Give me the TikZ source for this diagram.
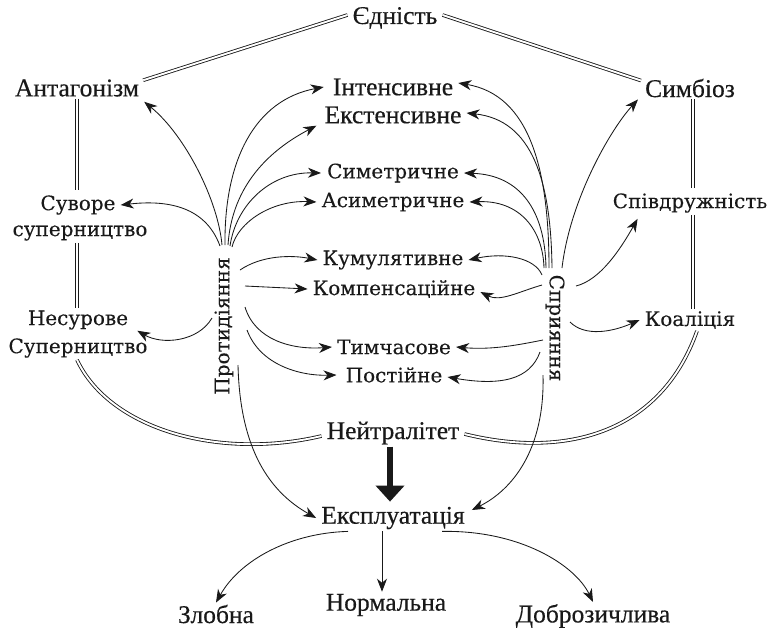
\documentclass[tikz,border=0pt]{standalone}
\usepackage{fontspec}
\usetikzlibrary{arrows.meta,calc}
\newfontfamily\slabf{DejaVu Serif}[FakeBold=0.15]
\newfontfamily\condf{Liberation Serif}[FakeBold=0.4]
\begin{document}
\begin{tikzpicture}[x=1pt,y=-1pt,
  cond/.style={font=\condf\fontsize{25.5}{31}\selectfont, inner xsep=5pt, inner ysep=2pt, text=black!90},
  slab/.style={font=\slabf\fontsize{20}{31}\selectfont, inner xsep=5pt, inner ysep=2pt, text=black!90},
  dbl/.style={double, double distance=1.9pt, line width=0.85pt, draw=black!90},
  arr/.style={-{Stealth[length=13pt,width=10pt,inset=4pt]}, line width=0.85pt, draw=black!90},
  thick arrow/.style={-{Triangle[length=16pt,width=28pt]}, line width=6.5pt, draw=black!90}]
\useasboundingbox (0,0) rectangle (771,630);

% nodes
\node[cond] (edn)  at (395,18)  {Єдність};
\node[cond] (ant)  at (77,88)   {Антагонізм};
\node[cond] (int)  at (393,87)  {Інтенсивне};
\node[cond] (ext)  at (393,115) {Екстенсивне};
\node[cond] (sym)  at (690,88)  {Симбіоз};
\node[slab] (suv1) at (78,205)  {Суворе};
\node[slab] (suv2) at (80,233)  {суперництво};
\node[slab] (spiv) at (690,203) {Співдружність};
\node[slab] (symm) at (393,173) {Симетричне};
\node[slab] (asym) at (393,202) {Асиметричне};
\node[slab] (kum)  at (393,260) {Кумулятивне};
\node[slab] (komp) at (394,289) {Компенсаційне};
\node[slab, rotate=90]  (prot) at (224,326) {Протидіяння};
\node[slab, rotate=-90] (spr)  at (555,328) {Сприяння};
\node[slab] (koal) at (690,320) {Коаліція};
\node[slab] (nes1) at (78,320)  {Несурове};
\node[slab] (nes2) at (78,348)  {Суперництво};
\node[slab] (tym)  at (394,347) {Тимчасове};
\node[slab] (post) at (394,375) {Постійне};
\node[cond] (neut) at (393,433) {Нейтралітет};
\node[cond] (expl) at (393,518) {Експлуатація};
\node[cond] (zl)   at (216,614) {Злобна};
\node[cond] (norm) at (386,605) {Нормальна};
\node[cond] (dobr) at (593,616) {Доброзичлива};

% guide coordinates for the double lines
\coordinate (L) at (77,0);
\coordinate (R) at (693,0);

% double lines
\draw[dbl] ([yshift=3pt]edn.west) -- ([xshift=-1pt,yshift=-3pt]ant.north east);
\draw[dbl] ([yshift=3pt]edn.east) -- ([xshift=1pt,yshift=-4pt]sym.north west);
\draw[dbl] (L |- ant.south) -- ([yshift=3pt]L |- suv1.north);
\draw[dbl] (L |- suv2.south) -- (L |- nes1.north);
\draw[dbl] (R |- sym.south) -- ([yshift=3pt]R |- spiv.north);
\draw[dbl] (R |- spiv.south) -- (R |- koal.north);
\draw[dbl] (L |- nes2.south) .. controls (110,430) and (220,460) .. ([yshift=-3pt]neut.west);
\draw[dbl] ([xshift=4pt]R |- koal.south) .. controls (662,430) and (570,460) .. ([yshift=-1pt]neut.east);

% start points around Протидіяння
\coordinate (p1) at (222,245);
\coordinate (p2) at (225,245);
\coordinate (p3) at (228,245);
\coordinate (p4) at (230,246);
\coordinate (p5) at (232,247);
\coordinate (p6) at (220,246);
\coordinate (p7) at (240,270);
\coordinate (p8) at (245,286);
\coordinate (p9) at (212,318);
\coordinate (p10) at (245,307);
\coordinate (p11) at (247,330);
\coordinate (p12) at (238,365);

\draw[arr] (p1) .. controls (218,200) and (185,135) .. ([yshift=-3pt]ant.south east);
\draw[arr] (p2) .. controls (224,160) and (255,100) .. ([xshift=-4pt]int.west);
\draw[arr] (p3) .. controls (232,185) and (270,150) .. ([xshift=-3pt]ext.south west);
\draw[arr] (p4) .. controls (236,205) and (270,172) .. ([xshift=-1pt]symm.west);
\draw[arr] (p5) .. controls (238,222) and (272,200) .. (asym.west);
\draw[arr] (p6) .. controls (205,205) and (165,200) .. (suv1.east);
\draw[arr] (p7) .. controls (262,255) and (292,255) .. (kum.west);
\draw[arr] (p8) -- (komp.west);
\draw[arr] (p9) .. controls (198,342) and (162,345) .. ([xshift=4pt,yshift=1pt]nes1.south east);
\draw[arr] (p10) .. controls (255,340) and (292,350) .. (tym.west);
\draw[arr] (p11) .. controls (260,365) and (300,376) .. ([xshift=-4pt]post.west);
\draw[arr] (p12) .. controls (240,450) and (270,492) .. (expl.west);

% start points around Сприяння
\coordinate (s1) at (549,268);
\coordinate (s2) at (552,268);
\coordinate (s3) at (546,268);
\coordinate (s4) at (544,268);
\coordinate (s5) at (562,268);
\coordinate (s6) at (576,286);
\coordinate (s7) at (542,275);
\coordinate (s8) at (542,285);
\coordinate (s9) at (570,322);
\coordinate (s10) at (543,340);
\coordinate (s11) at (540,352);
\coordinate (s12) at (543,375);

\draw[arr] (s1) .. controls (549,170) and (530,95) .. ([yshift=4pt]int.east);
\draw[arr] (s2) .. controls (551,180) and (532,120) .. ([yshift=2pt]ext.east);
\draw[arr] (s3) .. controls (545,210) and (520,175) .. (symm.east);
\draw[arr] (s4) .. controls (543,230) and (520,200) .. (asym.east);
\draw[arr] (s5) .. controls (570,200) and (610,130) .. ([xshift=-2pt]sym.south west);
\draw[arr] (s6) .. controls (600,280) and (620,250) .. ([xshift=30pt,yshift=-4pt]spiv.south west);
\draw[arr] (s7) .. controls (535,258) and (505,252) .. (kum.east);
\draw[arr] (s8) .. controls (518,292) and (500,302) .. ([yshift=-3pt]komp.east);
\draw[arr] (s9) .. controls (585,337) and (612,332) .. (koal.west);
\draw[arr] (s10) .. controls (518,345) and (492,350) .. (tym.east);
\draw[arr] (s11) .. controls (530,380) and (500,386) .. ([yshift=-2pt]post.east);
\draw[arr] (s12) .. controls (545,450) and (512,490) .. ([xshift=2pt,yshift=8pt]expl.east);

% thick arrow
\draw[thick arrow] ([xshift=-3pt]neut.south) -- ([xshift=-3pt,yshift=3pt]neut.south |- expl.north);

% bottom arrows
\draw[arr] ([xshift=-45pt]expl.south) .. controls (290,533) and (240,560) .. (zl.north);
\draw[arr] ([xshift=-11pt]expl.south) -- ([xshift=-4pt]norm.north);
\draw[arr] ([xshift=49pt]expl.south) .. controls (520,530) and (575,565) .. (dobr.north);
\end{tikzpicture}
\end{document}
